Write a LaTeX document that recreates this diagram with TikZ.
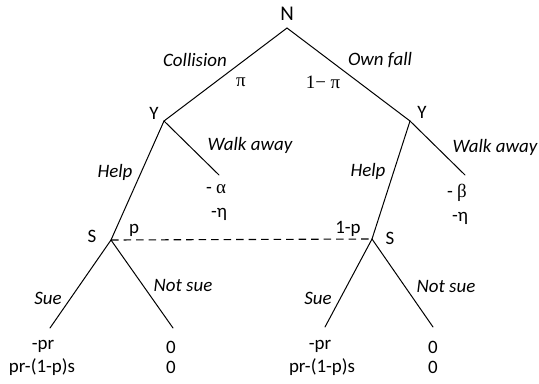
\documentclass[tikz,border=0pt]{standalone}
\usepackage{fontspec}
\setmainfont{Carlito}
\newfontfamily\grk{Liberation Serif}
\tikzset{
  lbl/.style={inner sep=0pt, font=\fontsize{19}{22}\selectfont},
  ilbl/.style={lbl, font=\fontsize{19}{22}\selectfont\itshape},
  glbl/.style={inner sep=0pt, font=\fontsize{19}{22}\selectfont\grk},
  edge/.style={draw, line width=1bp, line cap=round},
  info/.style={draw, line width=1.1bp, dash pattern=on 7.5bp off 5bp}
}
\begin{document}
\begin{tikzpicture}[x=1bp,y=-1bp]
\useasboundingbox (0,0) rectangle (539,383);
% vertices
\coordinate (n) at (287,28);
\coordinate (yl) at (164,121);
\coordinate (yr) at (410,121);
\coordinate (wl) at (219,175);
\coordinate (wr) at (465,175);
\coordinate (sl) at (111,240);
\coordinate (sr) at (372,239);
\coordinate (sul) at (50,328);
\coordinate (nsl) at (173,328);
\coordinate (sur) at (325,327);
\coordinate (nsr) at (433,327);
% edges
\path[edge] (n) -- (yl);
\path[edge] (n) -- (yr);
\path[edge] (yl) -- (wl);
\path[edge] (yr) -- (wr);
\path[edge] (yl) -- (sl);
\path[edge] (yr) -- (sr);
\path[edge] (sl) -- (sul);
\path[edge] (sl) -- (nsl);
\path[edge] (sr) -- (sur);
\path[edge] (sr) -- (nsr);
\path[info] (sl) -- (sr);
% labels
\node[lbl, font=\fontsize{21}{24}\selectfont] (lN) at (287,14) {N};
\node[lbl] (lYl) at (154,113) {Y};
\node[lbl] (lYr) at (422,112) {Y};
\node[lbl] (lSl) at (92,236) {S};
\node[lbl] (lSr) at (390,238) {S};
\node[ilbl] (lcol) at (195,60) {Collision};
\node[ilbl] (lown) at (380,60) {Own fall};
\node[glbl] (lpi) at (241,82) {π};
\node[glbl] (lpi2) at (323,82) {1− π};
\node[ilbl] (lhl) at (115,172) {Help};
\node[ilbl] (lhr) at (368,171) {Help};
\node[ilbl] (lwl) at (250,145) {Walk away};
\node[ilbl] (lwr) at (495,147) {Walk away};
\node[lbl] (la) at (216,189) {- {\grk α}};
\node[lbl] (le1) at (219,214) {-η};
\node[lbl] (lb) at (457,193) {- {\grk β}};
\node[lbl] (le2) at (460,218) {-η};
\node[lbl] (lp) at (134,230) {p};
\node[lbl] (l1p) at (348,229) {1-p};
\node[ilbl] (lsul) at (48,298) {Sue};
\node[ilbl] (lnsl) at (183,285) {Not sue};
\node[ilbl] (lsur) at (318,298) {Sue};
\node[ilbl] (lnsr) at (446,286) {Not sue};
\node[lbl] (pl1) at (43,346) {-pr};
\node[lbl] (pl2) at (42,367) {pr-(1-p)s};
\node[lbl] (zl1) at (171,347) {0};
\node[lbl] (zl2) at (171,367) {0};
\node[lbl] (pr1) at (320,346) {-pr};
\node[lbl] (pr2) at (322,367) {pr-(1-p)s};
\node[lbl] (zr1) at (433,347) {0};
\node[lbl] (zr2) at (433,367) {0};
\end{tikzpicture}
\end{document}
